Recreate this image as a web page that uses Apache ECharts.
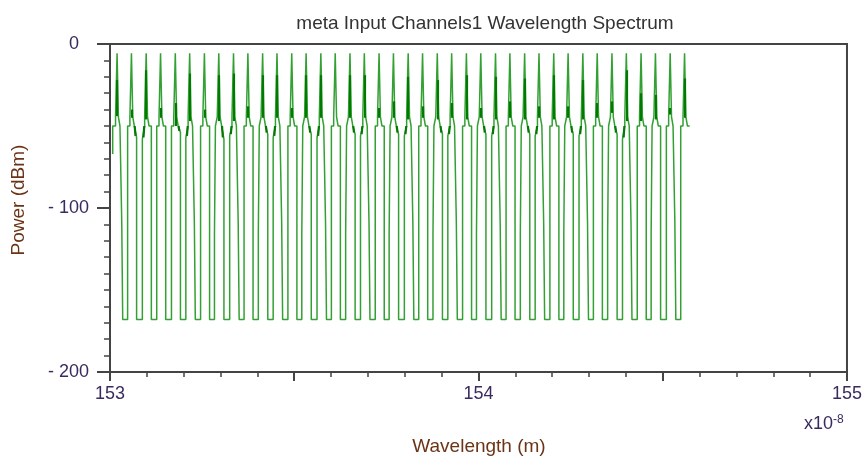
<!DOCTYPE html>
<html>
<head>
<meta charset="utf-8">
<script src="https://cdn.jsdelivr.net/npm/echarts@6/dist/echarts.min.js"></script>
<style>
  html, body { margin: 0; padding: 0; background: #ffffff; }
  #chart { width: 865px; height: 461px; }
</style>
</head>
<body>
<div id="chart"></div>
<script>
// Channel centre wavelengths (x 1e-8 m)
const channelCenters = [
  153.021, 153.060, 153.100, 153.139, 153.179, 153.218, 153.258, 153.297, 153.337, 153.376,
  153.416, 153.455, 153.495, 153.534, 153.574, 153.613, 153.653, 153.692, 153.732, 153.771,
  153.811, 153.850, 153.890, 153.929, 153.969, 154.008, 154.048, 154.087, 154.127, 154.166,
  154.206, 154.245, 154.285, 154.324, 154.364, 154.403, 154.443, 154.482, 154.522, 154.561
];
// Peak power of each channel (dBm)
const peakPower = [
  -5.7, -5.7, -5.7, -5.7, -5.7, -5.7, -5.7, -5.7, -5.7, -5.7,
  -5.7, -5.7, -5.7, -5.7, -5.7, -5.7, -5.7, -5.7, -5.7, -5.7,
  -5.7, -5.7, -5.7, -5.7, -5.7, -5.7, -5.7, -5.7, -5.7, -5.7,
  -5.7, -5.7, -5.7, -5.7, -5.7, -5.7, -5.7, -5.7, -5.7, -5.7
];
// Fluctuation band on each channel line (upper / lower, dBm); null = none
const rippleTop = [
  -22, -40, -16, -39, -36, -18, -40, -19, -18, -38,
  -19, -19, -39, -19, -19, null, -19, -19, -39, -35,
  -20, -38, -22, -36, -19, -39, -20, -35, -21, -38,
  -19, -38, -22, -36, -35, -16, -30, -31, -39, -21
];
const rippleBottom = [
  -44, -45, -46, -45, -50, -47, -45, -47, -47, -45,
  -45, -45, -45, -45, -45, null, -45, -45, -45, -45,
  -46, -45, -46, -45, -46, -45, -46, -45, -46, -45,
  -46, -45, -46, -45, -42, -47, -47, -46, -43, -45
];
// Dips of the -50 dBm shoulders left / right of each channel (dBm); null = flat
const shoulderDipLeft = [
  null, null, -58, null, null, -57, null, null, -56, null,
  null, -57, null, null, -57, null, null, -56, null, null,
  -56, null, null, -56, null, null, -56, null, null, -56,
  null, null, -56, null, null, -58, null, null, null, null
];
const shoulderDipRight = [
  null, -57, null, null, -54, null, null, -58, null, null,
  -55, null, null, -55, null, null, -55, null, null, -55,
  null, null, -55, null, null, -55, null, null, -55, null,
  null, -55, null, null, -55, null, null, null, null, null
];
// Intermediate samples on the falling / rising edge of each gap (dBm); null = none
const gapStepFall = [
  -109, null, null, null, null, -109, null, null, -109, null,
  null, -109, null, null, -109, null, null, -109, null, null,
  -109, null, null, -109, null, null, -109, null, null, -109,
  null, null, -109, null, null, -109, null, null, -109
];
const gapStepRise = [
  null, null, null, null, null, null, -116.5, null, null, -116.5,
  null, null, -116.5, null, null, -116.5, null, null, -116.5, null,
  null, -116.5, null, null, -116.5, null, null, -116.5, null, null,
  -116.5, null, null, -116.5, null, null, -116.5, null, null
];
const floorPower = -168;      // noise floor between channels (dBm)
const shoulderPower = -50;    // ASE shoulder level (dBm)
const pedestalPower = -44.5;  // pedestal under each line (dBm)
const startPoint = [153.0073, -67];

// half-widths of the spectral features (x 1e-8 m)
const shoulderHalf = 0.0122, pedestalHalf = 0.006, lineHalf = 0.0018, edgeSplit = 0.0013;

const xTicks = [153, 154, 155];

// build the stepped spectrum trace
const trace = [];
const ripples = [];
trace.push(startPoint, [startPoint[0], shoulderPower]);
channelCenters.forEach((c, k) => {
  const xl = c - shoulderHalf, xr = c + shoulderHalf;
  if (k > 0) {
    const rise = gapStepRise[k - 1];
    const top = shoulderDipLeft[k] !== null ? shoulderDipLeft[k] : shoulderPower;
    if (rise === null) {
      trace.push([xl, floorPower], [xl, top]);
    } else {
      trace.push([xl - edgeSplit, floorPower], [xl - edgeSplit, rise], [xl + edgeSplit, rise], [xl + edgeSplit, top]);
    }
    if (shoulderDipLeft[k] !== null) {
      ripples.push({ coords: [[xl + 0.003, shoulderDipLeft[k] + 1], [c - pedestalHalf - 0.001, shoulderPower]] });
    }
  }
  trace.push([c - pedestalHalf, shoulderPower], [c - pedestalHalf, pedestalPower],
    [c - lineHalf, pedestalPower], [c - lineHalf, peakPower[k]],
    [c + lineHalf, peakPower[k]], [c + lineHalf, pedestalPower],
    [c + pedestalHalf, pedestalPower], [c + pedestalHalf, shoulderPower]);
  if (rippleTop[k] !== null) {
    ripples.push({ coords: [[c - lineHalf, rippleBottom[k]], [c - lineHalf, rippleTop[k]]] });
  }
  if (shoulderDipRight[k] !== null) {
    ripples.push({ coords: [[c + pedestalHalf + 0.001, shoulderPower], [xr - 0.003, shoulderDipRight[k] + 1]] });
  }
  if (k < channelCenters.length - 1) {
    const fall = gapStepFall[k];
    const top = shoulderDipRight[k] !== null ? shoulderDipRight[k] : shoulderPower;
    if (fall === null) {
      trace.push([xr, top], [xr, floorPower]);
    } else {
      trace.push([xr - edgeSplit, top], [xr - edgeSplit, fall], [xr + edgeSplit, fall], [xr + edgeSplit, floorPower]);
    }
  } else {
    trace.push([xr, shoulderPower]);
  }
});

const axisColor = '#444444';
const labelColor = '#3a2a5e';
const nameColor = '#6b3416';
const font = 'Liberation Sans, Arial, sans-serif';

const chart = echarts.init(document.getElementById('chart'), null, { renderer: 'canvas' });
chart.setOption({
  animation: false,
  backgroundColor: '#ffffff',
  title: {
    text: 'meta Input Channels1 Wavelength Spectrum',
    left: 480, top: 9, textAlign: 'center',
    textStyle: { fontFamily: font, fontSize: 19, fontWeight: 'normal', color: '#333333' }
  },
  grid: {
    left: 110, right: 16, top: 44, bottom: 89,
    show: true, borderColor: axisColor, borderWidth: 2, backgroundColor: '#ffffff'
  },
  xAxis: {
    type: 'value', min: 153, max: 155, interval: 0.5,
    axisLine: { onZero: false, lineStyle: { color: axisColor, width: 2 } },
    axisTick: { length: 9, lineStyle: { color: axisColor, width: 2 } },
    minorTick: { show: true, splitNumber: 5, length: 5, lineStyle: { color: axisColor, width: 1.5 } },
    splitLine: { show: false },
    axisLabel: {
      margin: 13, color: labelColor, fontFamily: font, fontSize: 18,
      formatter: v => (xTicks.indexOf(v) >= 0 ? String(v) : '')
    }
  },
  yAxis: {
    type: 'value', min: -200, max: 0, interval: 100,
    axisLine: { onZero: false, lineStyle: { color: axisColor, width: 2 } },
    axisTick: { length: 13, lineStyle: { color: axisColor, width: 2 } },
    minorTick: { show: true, splitNumber: 10, length: 6, lineStyle: { color: axisColor, width: 1.5 } },
    splitLine: { show: false },
    axisLabel: {
      margin: 21, color: labelColor, fontFamily: font, fontSize: 18,
      formatter: v => (v < 0 ? '- ' + (-v) : '{z|' + v + '}'),
      rich: { z: { color: labelColor, fontFamily: font, fontSize: 18, padding: [0, 10, 0, 0] } }
    }
  },
  graphic: [
    { type: 'text', position: [19, 200], rotation: Math.PI / 2,
      style: { text: 'Power (dBm)', fill: nameColor, font: '19px ' + font, textAlign: 'center', textVerticalAlign: 'middle' } },
    { type: 'text', position: [479, 447],
      style: { text: 'Wavelength (m)', fill: nameColor, font: '19px ' + font, textAlign: 'center', textVerticalAlign: 'middle' } },
    { type: 'text', position: [804, 424],
      style: { text: '{b|x10}{s|-8}', fill: labelColor, textVerticalAlign: 'middle',
        rich: { b: { fontFamily: font, fontSize: 18, fill: labelColor }, s: { fontFamily: font, fontSize: 12, fill: labelColor, verticalAlign: 'top', padding: [0, 0, 8, 0] } } } }
  ],
  series: [
    {
      type: 'line', data: trace, showSymbol: false, symbol: 'none',
      lineStyle: { color: '#33a033', width: 1.5 }, z: 2
    },
    {
      type: 'lines', coordinateSystem: 'cartesian2d', polyline: false,
      data: ripples,
      lineStyle: { color: '#007a00', width: 2.2, opacity: 1 }, z: 3, silent: true
    }
  ]
});
</script>
</body>
</html>
